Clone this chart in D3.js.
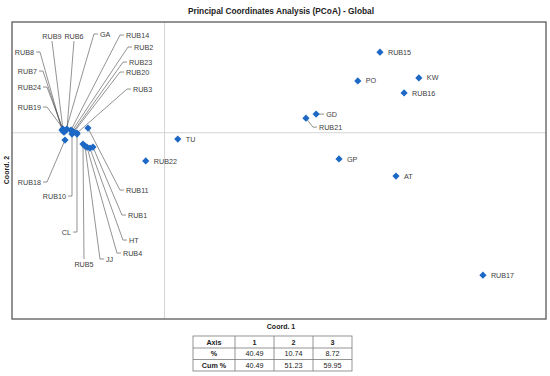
<!DOCTYPE html>
<html><head><meta charset="utf-8">
<script src="https://cdn.jsdelivr.net/npm/d3@7"></script>
<style>body{margin:0;background:#fff;}svg{display:block;}</style>
</head><body>
<svg id="c" width="550" height="376"></svg>
<script>
// ---- data ----
const names  = ["RUB15","PO","KW","RUB16","GD","RUB21","GP","AT","RUB17","TU","RUB22",
  "RUB9","RUB6","GA","RUB14","RUB2","RUB23","RUB20","RUB3","RUB8","RUB7","RUB24","RUB19",
  "RUB18","RUB10","CL","RUB5","JJ","RUB4","HT","RUB1","RUB11"];
const coord1 = [0.4235,0.380,0.500,0.471,0.298,0.278,0.343,0.455,0.626,0.026,-0.037,
  -0.1998,-0.1919,-0.1939,-0.1840,-0.1820,-0.1800,-0.1781,-0.1722,-0.2017,-0.1998,-0.1978,-0.1958,
  -0.1958,-0.1820,-0.1722,-0.1604,-0.1565,-0.1526,-0.1467,-0.1408,-0.1506];
const coord2 = [0.160,0.103,0.109,0.079,0.037,0.029,-0.052,-0.086,-0.283,-0.0125,-0.056,
  0.0074,0.0074,0.0054,0.0054,0.0034,0.0014,0.0014,-0.0006,0.0054,0.0034,0.0014,0.0034,
  -0.0145,-0.0026,-0.0026,-0.0225,-0.0264,-0.0284,-0.0304,-0.0284,0.0093];
const tableHead = ["Axis","1","2","3"];
const tableRows = [["%","40.49","10.74","8.72"],["Cum %","40.49","51.23","59.95"]];

// ---- label layout (pixel offsets from the point) ----
const labelLayout = {
  RUB9:{t:"top",dx:-11,dy:-88}, RUB6:{t:"top",dx:7,dy:-88},
  GA:{t:"right",dx:28,dy:-96}, RUB14:{t:"right",dx:49,dy:-95}, RUB2:{t:"right",dx:56,dy:-84},
  RUB23:{t:"right",dx:50,dy:-70}, RUB20:{t:"right",dx:46,dy:-60}, RUB3:{t:"right",dx:50,dy:-44},
  RUB8:{t:"left",dx:-22,dy:-78}, RUB7:{t:"left",dx:-20,dy:-60}, RUB24:{t:"left",dx:-17,dy:-45},
  RUB19:{t:"left",dx:-18,dy:-24}, RUB18:{t:"left",dx:-18,dy:42}, RUB10:{t:"left",dx:0,dy:62},
  CL:{t:"left",dx:0,dy:98}, RUB5:{t:"bottom",dx:1,dy:115}, JJ:{t:"right",dx:15,dy:113},
  RUB4:{t:"right",dx:30,dy:106}, HT:{t:"right",dx:33,dy:92}, RUB1:{t:"right",dx:29,dy:68},
  RUB11:{t:"right",dx:32,dy:62}, RUB21:{t:"right",dx:7,dy:9}, GD:{t:"right",dx:4,dy:0}
};

const svg = d3.select("#c");
const L=12,T=22,R=546,B=319;
const x = d3.scaleLinear().domain([-0.3,0.75]).range([L,R]);
const y = d3.scaleLinear().domain([-0.37,0.22]).range([B,T]);

const font = "'Liberation Sans', Arial, sans-serif";
const blue = "#1d68c4";

// title
svg.append("text").attr("x",281).attr("y",14).attr("text-anchor","middle")
  .attr("font-family",font).attr("font-weight","bold").attr("font-size",9.5)
  .attr("fill","#222").attr("textLength",186).attr("lengthAdjust","spacingAndGlyphs")
  .text("Principal Coordinates Analysis (PCoA) - Global");

// zero lines
svg.append("line").attr("x1",x(0)).attr("x2",x(0)).attr("y1",T).attr("y2",B)
  .attr("stroke","#d4d4d4").attr("stroke-width",1);
svg.append("line").attr("x1",L).attr("x2",R).attr("y1",y(0)).attr("y2",y(0))
  .attr("stroke","#d4d4d4").attr("stroke-width",1);

// frame
svg.append("rect").attr("x",L).attr("y",T).attr("width",R-L).attr("height",B-T)
  .attr("fill","none").attr("stroke","#5a5a5a").attr("stroke-width",1.3);

// axis titles
svg.append("text").attr("x",281).attr("y",329).attr("text-anchor","middle")
  .attr("font-family",font).attr("font-weight","bold").attr("font-size",7)
  .attr("fill","#222").text("Coord. 1");
svg.append("text").attr("transform","translate(9,"+170+") rotate(-90)").attr("text-anchor","middle")
  .attr("font-family",font).attr("font-weight","bold").attr("font-size",7)
  .attr("fill","#222").text("Coord. 2");

const pts = names.map((n,i)=>({name:n,px:x(coord1[i]),py:y(coord2[i])}));

// leader lines and labels
const lg = svg.append("g");
const fs = 7.2;
pts.forEach(p=>{
  const lay = labelLayout[p.name];
  if(!lay){
    lg.append("text").attr("x",p.px+8).attr("y",p.py+2.6).attr("font-family",font)
      .attr("font-size",fs).attr("fill","#404040").text(p.name);
    return;
  }
  const ax=p.px+lay.dx, ay=p.py+lay.dy;
  const path=d3.path(); path.moveTo(p.px,p.py); path.lineTo(ax,ay);
  let tx,ty,anchor;
  if(lay.t==="right"){ path.lineTo(ax+4,ay); tx=ax+6; ty=ay+2.6; anchor="start"; }
  else if(lay.t==="left"){ path.lineTo(ax-4,ay); tx=ax-6; ty=ay+2.6; anchor="end"; }
  else if(lay.t==="top"){ tx=ax; ty=ay-2.5; anchor="middle"; }
  else { tx=ax; ty=ay+8; anchor="middle"; }
  lg.append("path").attr("d",path.toString()).attr("fill","none")
    .attr("stroke","#4a4a4a").attr("stroke-width",0.6);
  lg.append("text").attr("x",tx).attr("y",ty).attr("text-anchor",anchor).attr("font-family",font)
    .attr("font-size",fs).attr("fill","#404040").text(p.name);
});

// markers
const sym = d3.symbol().type(d3.symbolSquare).size(26);
svg.append("g").selectAll("path").data(pts).join("path")
  .attr("d",sym).attr("transform",d=>`translate(${d.px},${d.py}) rotate(45)`)
  .attr("fill",blue);

// table
const cols=[193,235,274,313,352], rowsY=[336,348,359.5,371];
const tg=svg.append("g");
const allRows=[tableHead].concat(tableRows);
tg.append("rect").attr("x",cols[0]).attr("y",rowsY[0]).attr("width",cols[4]-cols[0])
  .attr("height",rowsY[3]-rowsY[0]).attr("fill","none").attr("stroke","#7a7a7a").attr("stroke-width",0.8);
cols.slice(1,4).forEach(c=>tg.append("line").attr("x1",c).attr("x2",c).attr("y1",rowsY[0]).attr("y2",rowsY[3])
  .attr("stroke","#7a7a7a").attr("stroke-width",0.8));
rowsY.slice(1,3).forEach(r=>tg.append("line").attr("x1",cols[0]).attr("x2",cols[4]).attr("y1",r).attr("y2",r)
  .attr("stroke","#7a7a7a").attr("stroke-width",0.8));
allRows.forEach((row,ri)=>{
  row.forEach((v,ci)=>{
    tg.append("text").attr("x",(cols[ci]+cols[ci+1])/2).attr("y",(rowsY[ri]+rowsY[ri+1])/2+2.6)
      .attr("text-anchor","middle").attr("font-family",font).attr("font-size",7.2)
      .attr("font-weight",(ri===0||ci===0)?"bold":"normal").attr("fill","#222").text(v);
  });
});
</script>
</body></html>
